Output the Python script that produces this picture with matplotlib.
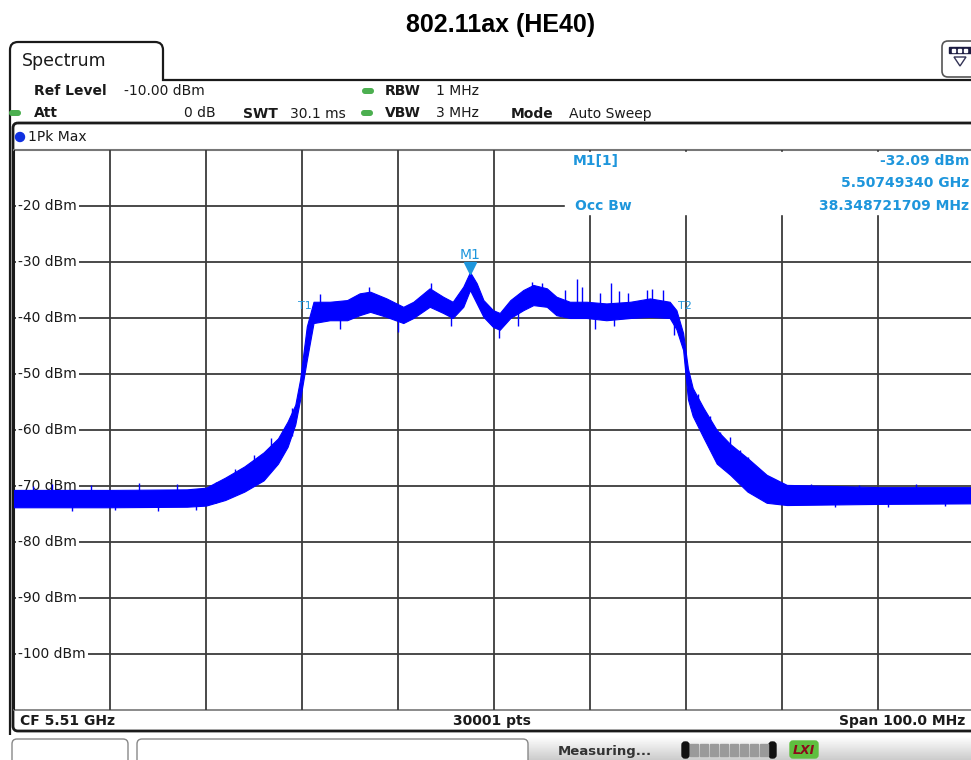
import numpy as np
import matplotlib
matplotlib.use("Agg")
import matplotlib.pyplot as plt
from matplotlib.patches import FancyBboxPatch, Rectangle, Polygon
from matplotlib.path import Path
from matplotlib.patches import PathPatch

# trace envelope (offset from CF in MHz, dBm)
freq_mhz = [-50, -40, -32, -30, -28, -26, -24, -22.5, -21.5, -20.7,
            -20.2, -19.5, -18.8, -17.1, -15.3, -14.0, -12.9, -11.2, -9.45, -8.4,
            -6.7, -5.3, -4.3, -3.2, -2.5, -1.8, -1.1, -0.1, 0.6, 1.7,
            3.05, 4.1, 5.5, 6.5, 7.9, 9.65, 11.7, 14.2, 16.25, 18.3,
            19.0, 19.7, 20.2, 20.7, 21.8, 23.2, 24.6, 26.4, 28.4, 30.5,
            40, 50]
upper_dbm = [-70.7, -70.7, -70.6, -70.3, -68.5, -66.5, -64, -61.5, -58.5, -55.5,
             -51, -41.5, -37.1, -37.1, -36.8, -35.6, -35.3, -36.5, -38, -37.1,
             -34.7, -36.2, -37.1, -34.4, -31.8, -33.8, -36.8, -38.6, -39.1, -36.8,
             -35, -34.1, -34.7, -36.2, -37.1, -37.1, -37.4, -37.1, -36.5, -37.1,
             -38.6, -42.7, -49, -52.5, -56, -60, -62.5, -65, -68, -69.8,
             -70.2, -70.2]
lower_dbm = [-73.8, -73.8, -73.7, -73.5, -72.5, -71, -69, -66, -63, -59,
             -54.6, -47.5, -40.9, -40.4, -40.4, -39.5, -38.9, -39.8, -40.9, -40,
             -38, -39.1, -40, -38, -35, -37.4, -39.8, -41.6, -42.1, -40,
             -38.6, -37.7, -38, -39.5, -40, -40, -40.4, -40, -39.8, -40,
             -42, -45.7, -54.5, -57.5, -61.3, -66, -68, -71, -73, -73.4,
             -73.2, -73.1]

# single noise spikes sticking out of the band
spike_f = [-48, -46, -44, -42, -39.5, -37, -35, -33, -31, -29, -27, -25, -23.2, -22, -21,
           -18.1, -16, -13, -10, -6.6, -4.5, 0.5, 2.5, 4, 5, 10.5, 11, 12.2, 12.5, 13, 16.5, 18.8,
           7.4, 8.6, 9.2, 14, 15.9, 17.6,
           21.3, 22.5, 23.5, 24.6, 25.6, 26.5, 27.5, 29, 33, 35.5, 38, 41, 44, 47]
spike_lo = [-73, -72, -74.5, -72, -74.3, -72, -74.4, -72, -74.2, -73, -71, -69, -66, -64, -61,
            -39, -42, -38, -42.5, -37, -41.5, -43.5, -41.5, -37, -37, -42, -38, -38, -41.5, -38, -38, -43,
            -38, -38, -38, -38, -38, -38,
            -58, -60, -62, -64, -66, -68, -70, -72, -72, -73.8, -72, -73.7, -72, -73.6]
spike_hi = [-70, -69.6, -72, -69.8, -72, -69.5, -72, -69.7, -72, -69.2, -67, -64.5, -61.5, -60.5, -56,
            -35.8, -39, -34.5, -40, -33.8, -39, -41, -39, -33.5, -33.8, -39.5, -35.5, -33.8, -39, -35.2, -34.8, -40,
            -35, -33, -34.4, -35.6, -35, -35,
            -53.5, -57.5, -60.3, -61.2, -63.5, -64.8, -67, -69.3, -69.6, -71.5, -69.8, -71.5, -69.7, -71.5]

grid_f = [-40, -30, -20, -10, 0, 10, 20, 30, 40]
grid_db = [-20, -30, -40, -50, -60, -70, -80, -90, -100]

marker_f = -2.5
marker_db = -32.09

blue = "#0000ff"
mk_blue = "#1e96dc"
dark = "#1a1a1a"
gridc = "#3c3c3c"

fig = plt.figure(figsize=(9.71, 7.6), dpi=100)

# background axes in pixel units for the instrument frame
bg = fig.add_axes([0, 0, 1, 1])
bg.set_xlim(0, 971)
bg.set_ylim(760, 0)
bg.axis("off")
px = bg.transData

fig.text(0.516, 1 - 25 / 760, "802.11ax (HE40)", ha="center", va="center",
         fontsize=18, fontweight="bold", family="Liberation Sans")

# tab + outer frame
verts = [(10, 735), (10, 50), (10, 42), (18, 42), (155, 42), (163, 42), (163, 50), (163, 80), (985, 80)]
codes = [Path.MOVETO, Path.LINETO, Path.CURVE3, Path.CURVE3, Path.LINETO, Path.CURVE3, Path.CURVE3,
         Path.LINETO, Path.LINETO]
bg.add_patch(PathPatch(Path(verts, codes), fill=False, lw=1.6, ec=dark))
bg.text(22, 61, "Spectrum", fontsize=12.5, va="center", color=dark)

# icon top right
bg.add_patch(FancyBboxPatch((942, 41), 40, 36, boxstyle="round,pad=0,rounding_size=6",
                            fill=False, lw=1.2, ec="#555555"))
bg.add_patch(Rectangle((949, 47), 22, 6, color="#1a1a40"))
for xx in (952, 958, 964):
    bg.add_patch(Rectangle((xx, 48.5), 3, 3, color="white"))
bg.add_patch(Polygon([(954, 57), (966, 57), (960, 66)], closed=True, fill=False, lw=1, ec="#333355"))

# settings lines
hdr = dict(fontsize=10, va="center", color=dark)
bg.text(34, 91, "Ref Level", fontweight="bold", **hdr)
bg.text(124, 91, "-10.00 dBm", **hdr)
bg.text(34, 113, "Att", fontweight="bold", **hdr)
bg.text(216, 113, "0 dB", ha="right", **hdr)
bg.text(243, 114, "SWT", fontweight="bold", **hdr)
bg.text(290, 114, "30.1 ms", **hdr)
bg.text(385, 91, "RBW", fontweight="bold", **hdr)
bg.text(436, 91, "1 MHz", **hdr)
bg.text(385, 113, "VBW", fontweight="bold", **hdr)
bg.text(436, 113, "3 MHz", **hdr)
bg.text(511, 114, "Mode", fontweight="bold", **hdr)
bg.text(569, 114, "Auto Sweep", **hdr)
for (xx, yy) in [(368, 91), (15, 113), (367, 113)]:
    bg.add_patch(FancyBboxPatch((xx - 6, yy - 3), 12, 6, boxstyle="round,pad=0,rounding_size=3",
                                color="#4caf50", lw=0))

# trace window frame
bg.add_patch(FancyBboxPatch((13, 123), 980, 608, boxstyle="round,pad=0,rounding_size=5",
                            fill=False, lw=2, ec=dark))
bg.plot([14, 971], [150, 150], color="#777777", lw=1.5)
bg.plot([14, 971], [710, 710], color="#777777", lw=1.2)
bg.add_patch(plt.Circle((20, 137), 4.5, color="#1030e0"))
bg.text(28, 137, "1Pk Max", fontsize=10, va="center", color=dark)

bot = dict(fontsize=10, fontweight="bold", va="center", color=dark)
bg.text(20, 721, "CF 5.51 GHz", **bot)
bg.text(492, 721, "30001 pts", ha="center", **bot)
bg.text(965, 721, "Span 100.0 MHz", ha="right", **bot)

# status bar
grad = np.linspace(1, 0.8, 30).reshape(-1, 1)
bg.imshow(grad, extent=(528, 971, 760, 736), cmap="gray", vmin=0, vmax=1, aspect="auto", zorder=0)
bg.add_patch(FancyBboxPatch((12, 739), 116, 30, boxstyle="round,pad=0,rounding_size=5",
                            fill=False, lw=1, ec="#888888"))
bg.add_patch(FancyBboxPatch((137, 739), 391, 30, boxstyle="round,pad=0,rounding_size=5",
                            fc="white", lw=1, ec="#888888"))
bg.text(558, 751, "Measuring...", fontsize=9.5, fontweight="bold", va="center", color="#333333")
bg.add_patch(FancyBboxPatch((682, 742), 7, 16, boxstyle="round,pad=0,rounding_size=3", color="#111111"))
bg.add_patch(FancyBboxPatch((769, 742), 7, 16, boxstyle="round,pad=0,rounding_size=3", color="#111111"))
for xx in range(690, 768, 10):
    bg.add_patch(Rectangle((xx, 744), 8, 12, color="#9a9a9a"))
bg.add_patch(FancyBboxPatch((790, 741), 28, 17, boxstyle="round,pad=0,rounding_size=3", color="#5fbf3f"))
bg.text(804, 750, "LXI", fontsize=9, fontweight="bold", style="italic", color="#8b0a1a",
        ha="center", va="center")

# spectrum axes
ax = fig.add_axes([14 / 971, 50 / 760, 960 / 971, 560 / 760])
ax.set_xlim(-50, 50)
ax.set_ylim(-110, -10)
ax.set_facecolor("none")
ax.set_xticks([])
ax.set_yticks([])
for s in ax.spines.values():
    s.set_visible(False)

ax.vlines(grid_f, -110, -10, color=gridc, lw=1.3, zorder=1)
ax.hlines(grid_db, -50, 50, color=gridc, lw=1.3, zorder=1)
ax.plot([-50, -50], [-110, -10], color=dark, lw=1.5, zorder=1)

# marker info box hides the grid in the upper right corner
ax.add_patch(Rectangle((565, 151.6), 420, 62.4, transform=px, color="white", zorder=2, clip_on=False))

for v in grid_db:
    ax.text(-49.6, v, f"{v} dBm", fontsize=10, va="center", color=dark, zorder=2,
            bbox=dict(fc="white", ec="none", pad=1.5))

ax.fill_between(freq_mhz, lower_dbm, upper_dbm, color=blue, lw=0.8, zorder=3)
ax.vlines(spike_f, spike_lo, spike_hi, color=blue, lw=1, zorder=3)

mk = dict(color=mk_blue, fontweight="bold", fontsize=10, va="center", zorder=4)
ax.text(573, 161, "M1[1]", transform=px, **mk)
ax.text(969, 161, f"{marker_db:.2f} dBm", transform=px, ha="right", **mk)
ax.text(969, 183, "5.50749340 GHz", transform=px, ha="right", **mk)
ax.text(575, 206, "Occ Bw", transform=px, **mk)
ax.text(969, 206, "38.348721709 MHz", transform=px, ha="right", **mk)

ax.plot(marker_f, marker_db + 1.0, marker="v", ms=8, color=mk_blue, zorder=4)
ax.text(marker_f, marker_db + 3.4, "M1", color=mk_blue, fontsize=10, ha="center", va="center", zorder=4)
ax.text(-19.7, -37.8, "T1", color=mk_blue, fontsize=8, ha="center", va="center", zorder=2)
ax.text(19.9, -37.8, "T2", color=mk_blue, fontsize=8, ha="center", va="center", zorder=2)

fig.savefig("out.png", dpi=100)
